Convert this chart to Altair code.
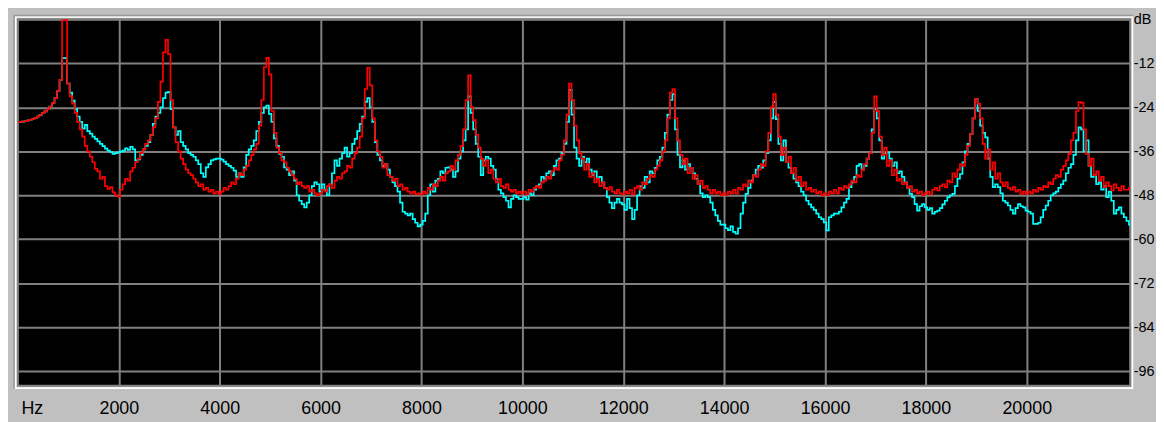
import altair as alt
import pandas as pd

# Frequency bins (Hz), 50 Hz apart, up to Nyquist
FREQ = list(range(0, 22001, 50)) + [22050]

# Red spectrum (dB), one row per 2000 Hz
RED = [
    -28, -28, -27.9, -27.8, -27.6, -27.4, -27.2, -26.9, -26.5, -26.1,
    -25.6, -25.1, -24.5, -23.8, -22.8, -21.5, -19.5, -16.5, -0.3, -0.1,
    -17.5, -21, -23, -25.5, -28, -30, -32, -34.5, -36, -37.5,
    -39, -40.8, -41.5, -43.5, -43, -45.5, -46.3, -45.8, -47.2, -48,
    # 2000
    -48.4, -46.5, -45, -43.5, -44, -41.5, -40.5, -39, -38, -36.5,
    -35.5, -34, -33, -31.5, -29.5, -27, -22.5, -17, -9, -5.6,
    -9.5, -22, -29.5, -33.5, -36, -38, -39.5, -41, -42, -42.5,
    -43.5, -44.5, -45.5, -45, -46.5, -46, -47, -46.5, -47.5, -47,
    # 4000
    -47.6, -47, -46, -46.5, -45.5, -44.5, -45, -43.5, -42, -42.5,
    -41, -40, -38.5, -37, -35.5, -34, -29, -22, -13, -10.5,
    -15, -25, -31, -35, -36.5, -38.5, -39, -40.5, -41.5, -42.5,
    -43.5, -45, -44.5, -45.5, -46, -45.5, -47, -46.5, -47.5, -48,
    # 6000
    -47.5, -46.5, -47, -45.5, -45, -46, -44, -43, -43.5, -42,
    -41.5, -40, -40.5, -38, -36.5, -35, -32, -27, -19, -13.2,
    -18, -27, -33, -36, -37.5, -40.5, -39.5, -42.5, -43, -44,
    -43.5, -45.5, -45, -46.5, -46, -47, -47.5, -47, -47.8, -47.5,
    # 8000
    -47.8, -47, -47.5, -46, -46.5, -45, -45.5, -44, -43, -44,
    -42, -41.5, -40, -41, -38.5, -37, -34.5, -30, -22, -15.3,
    -24, -27.5, -31.5, -35, -38, -40, -38.5, -42, -41, -43.5,
    -44.5, -43.5, -45.5, -46, -45, -46.5, -47, -46.5, -47.5, -47,
    # 10000
    -47.5, -47, -47.8, -46.5, -47, -46, -45.5, -46, -44.5, -44,
    -43, -43.5, -41.5, -40.5, -41, -38.5, -37, -33, -26, -17.5,
    -22, -29, -33, -36.5, -38, -41, -39.5, -43, -42, -44.5,
    -43.5, -45.5, -44.5, -46, -46.5, -45.8, -47, -47.5, -46.5, -47.5,
    # 12000
    -47.8, -47, -47.5, -46.5, -47.8, -46, -45.5, -46.5, -44.5, -45,
    -43.5, -42.5, -43, -41, -40, -38.5, -36, -33, -27, -20,
    -19, -27, -33, -37, -39.5, -38, -42, -40.5, -43.5, -42.5,
    -45, -44, -46, -45.5, -46.5, -47.5, -46.5, -47.5, -47, -48,
    # 14000
    -47.5, -48, -47, -47.5, -46.5, -47.5, -46, -46.5, -45, -45.5,
    -44, -44.5, -42.5, -43, -41, -39.5, -40, -36, -31, -24,
    -20.4, -26, -32, -37, -35, -39, -37.5, -42, -40.5, -44,
    -43, -45.5, -44.5, -46.5, -46, -47, -46.5, -47.5, -47, -48,
    # 16000
    -47.5, -48, -47, -47.5, -46.5, -47.5, -46, -46.5, -45.5, -46,
    -45, -44, -44.5, -42.5, -43, -41, -39.5, -38, -36.5, -31,
    -21, -25, -32, -37, -35, -40, -38.5, -42.5, -41, -44,
    -43.5, -45, -44.5, -46, -45.5, -47, -46.5, -47.5, -47, -48,
    # 18000
    -47.5, -47, -47.8, -46.5, -46, -46.7, -45.5, -45, -45.8, -44,
    -44.5, -42, -43, -41, -39.5, -40, -37, -34.5, -31.3, -27,
    -21.7, -23, -27, -34, -38, -35.5, -41, -39, -43.5, -42,
    -44.5, -45.5, -44.5, -46, -46.5, -45.8, -47, -46.5, -47.6, -47,
    # 20000
    -47.6, -47, -47.5, -46.5, -47, -46, -46.5, -45.5, -45.8, -44.5,
    -45, -43.5, -42.5, -43, -41, -40, -38.5, -36.7, -33, -31,
    -25, -22.6, -22.8, -30, -36.7, -40, -38, -42.5, -41.5, -44,
    -43, -45.8, -44.5, -45.5, -46.7, -45, -46, -46.7, -45.5, -46.5,
    # 22000, 22050
    -46.5, -46,
]

# Cyan spectrum (dB)
CYAN = [
    -28, -28, -27.9, -27.8, -27.6, -27.4, -27.2, -26.9, -26.5, -26.1,
    -25.6, -25.1, -24.5, -23.8, -22.8, -21.5, -19.5, -16.5, -10.6, -10.6,
    -17.5, -20, -22.2, -24.5, -26.5, -28, -29.8, -28.8, -30.5, -31.2,
    -32, -32.6, -33.3, -34, -34.6, -35.3, -35.8, -36.2, -36.7, -36.5,
    # 2000
    -36.3, -36, -35.8, -35.2, -35.6, -34.8, -35.5, -38.5, -38.2, -37,
    -35.5, -34.5, -33.5, -31.5, -28.5, -26.5, -25.5, -24, -21.5, -20,
    -19.8, -24.5, -29.5, -31.5, -30.5, -33.5, -34.5, -35.5, -36.5, -37,
    -37.5, -38.5, -39.5, -42, -43, -40.4, -39.5, -38.5, -38.2, -38,
    # 4000
    -38, -38.3, -38.8, -39.5, -40, -40.5, -41.3, -43, -42, -43,
    -40.4, -37, -35.5, -34.5, -33, -30.5, -28, -25.5, -24, -23.5,
    -25.8, -28, -32.5, -34.5, -36.7, -37.5, -40.4, -41, -42.5, -41.5,
    -44, -48, -49.5, -50.4, -51.3, -50, -48, -45.5, -44.5, -45,
    # 6000
    -47, -45, -46.5, -48, -45, -42, -38.5, -40, -38, -36.5,
    -35, -37.5, -36.5, -34, -32.6, -30.5, -28.5, -26.5, -22.5, -21.5,
    -24, -28, -33.5, -37, -38.5, -40, -39.5, -41, -43, -44.5,
    -45.5, -47, -50, -52.5, -53, -53.5, -53, -54.5, -55.5, -56.5,
    # 8000
    -56, -55, -53, -48, -45, -47, -44, -43.5, -41.5, -42,
    -40.5, -40.4, -41, -43, -41.5, -38, -36, -33, -30, -21,
    -25.5, -30, -34, -37.5, -42.5, -38.5, -37.5, -38, -40, -41,
    -43.5, -46.5, -47.5, -48.5, -49.5, -51.3, -49, -48, -48.5, -49,
    # 10000
    -49, -48.5, -49.2, -47.5, -48, -46.5, -45.5, -45, -43, -43.5,
    -42, -41.5, -42.5, -40, -38.5, -38, -36.5, -34, -28, -19.2,
    -26, -35, -38, -40, -37.5, -39, -38, -41, -42.5, -41.5,
    -43.5, -43, -44.5, -46, -48.5, -50, -51.5, -50, -49, -50,
    # 12000
    -50.5, -52, -49, -51.5, -54.5, -52, -48, -45.5, -46, -43,
    -44.5, -41.5, -42, -40.5, -38.5, -37.5, -35, -31, -26, -22,
    -20.4, -30, -37, -40.4, -38.5, -41, -39.5, -40.5, -42, -43.5,
    -45, -47.5, -48.5, -48, -48.5, -50, -52, -53.5, -55, -56,
    # 14000
    -56, -57, -57.5, -56.5, -58, -58.5, -57, -53, -50, -47.6,
    -46, -44, -42.5, -41, -40, -40.5, -38.5, -36.5, -33, -27,
    -22.5, -27.2, -34, -38.5, -33, -39, -40.5, -42, -43.5, -44.5,
    -45.5, -47, -48, -49.5, -50.5, -51.3, -52, -53, -54, -54.5,
    # 16000
    -55.4, -57.6, -54, -53.5, -53, -53, -52.5, -51.3, -50, -49,
    -45.8, -44.5, -43, -40, -39.5, -41, -40, -38, -36.5, -30,
    -24.5, -27, -33, -38, -36.5, -36.3, -38, -40, -39, -42,
    -41.5, -43, -44.5, -46, -47.6, -48.5, -50.4, -52.2, -51, -50.4,
    # 18000
    -51.3, -52, -51.5, -53, -52.5, -52.2, -51.5, -50.5, -49.5, -48.5,
    -48, -47.6, -45.5, -43.5, -42.2, -39, -36, -34, -31.3, -27,
    -21.7, -25, -29, -31, -32.2, -38, -43, -45.8, -45, -45.8,
    -47.5, -49.5, -50, -50.8, -52, -53, -51.5, -50.4, -51, -51.3,
    # 20000
    -52.2, -52.5, -53, -55.8, -55.8, -55.5, -54, -52, -50.8, -49.5,
    -48, -47.5, -47, -46, -45, -44, -42, -40.5, -39.5, -37,
    -33, -29.5, -30, -36, -33, -40, -43, -42.5, -45, -44.5,
    -46.5, -45.5, -48.5, -47, -49.5, -53, -52, -51.3, -53, -54,
    # 22000, 22050
    -55, -56,
]

X_TICKS = list(range(2000, 20001, 2000))
Y_TICKS = [0, -12, -24, -36, -48, -60, -72, -84, -96]

assert len(RED) == len(FREQ) and len(CYAN) == len(FREQ)

df = pd.DataFrame({
    "Hz": FREQ + FREQ,
    "dB": CYAN + RED,
    "series": ["cyan"] * len(FREQ) + ["red"] * len(FREQ),
})

W, H = 1120, 369
FONT = "Liberation Sans"
FS = 18

base = alt.Chart(df).encode(
    x=alt.X(
        "Hz:Q",
        scale=alt.Scale(domain=[0, 22050], nice=False, zero=False),
        axis=alt.Axis(
            values=X_TICKS, format="d", grid=True, ticks=False, domain=False,
            labelFlush=False, labelPadding=23, labelBaseline="middle",
            title="Hz", titleX=14, titleY=23, titleAlign="center",
            titleBaseline="middle", titleAngle=0,
        ),
    ),
    y=alt.Y(
        "dB:Q",
        scale=alt.Scale(domain=[-100, 0], nice=False, zero=False),
        axis=alt.Axis(
            orient="right", values=Y_TICKS, grid=True, ticks=False, domain=False,
            labelExpr="datum.value == 0 ? 'dB' : toString(datum.value)",
            labelAlign="left", labelBaseline="middle", labelPadding=3,
            labelFontSize=14.5, labelFlush=False, title=None,
        ),
    ),
)

cyan = base.transform_filter(alt.datum.series == "cyan").mark_line(
    interpolate="step", color="#00ffff", strokeWidth=1.7, clip=True
)
red = base.transform_filter(alt.datum.series == "red").mark_line(
    interpolate="step", color="#ff0000", strokeWidth=1.7, clip=True
)

one = pd.DataFrame({"k": [0]})
white_frame = alt.Chart(one).mark_rect(
    filled=False, stroke="#ffffff", strokeWidth=1.6
).encode(
    x=alt.value(-2.3), x2=alt.value(W + 2.3),
    y=alt.value(-2.3), y2=alt.value(H + 2.3),
)
dark_top = alt.Chart(one).mark_rule(color="#989898", strokeWidth=1.5).encode(
    x=alt.value(-4), x2=alt.value(W + 3), y=alt.value(-4)
)
dark_left = alt.Chart(one).mark_rule(color="#989898", strokeWidth=1.5).encode(
    x=alt.value(-4), y=alt.value(-4), y2=alt.value(H + 3)
)

chart = (
    alt.layer(cyan, red, white_frame, dark_top, dark_left)
    .properties(
        width=W, height=H, background="#c0c0c0",
        padding={"left": 10, "top": 10, "right": 26, "bottom": 35},
        autosize=alt.AutoSizeParams(type="none"),
    )
    .configure_view(fill="#000000", stroke="#808080", strokeWidth=2)
    .configure_axis(
        gridColor="#808080", gridWidth=2, gridOpacity=1,
        labelFont=FONT, labelFontSize=FS, labelColor="#000000",
        titleFont=FONT, titleFontSize=FS, titleColor="#000000",
        titleFontWeight="normal",
    )
)

chart.save("out.html", embed_options={"renderer": "svg", "actions": False})
